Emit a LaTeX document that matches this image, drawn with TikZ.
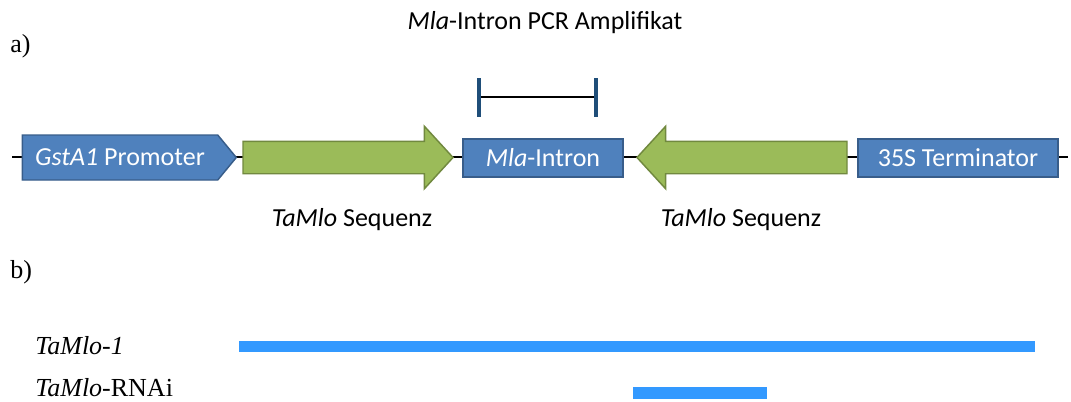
\documentclass[tikz,border=0pt]{standalone}
\usepackage{fontspec}
\setmainfont{Liberation Serif}
\newfontfamily\calib{Carlito}
\usetikzlibrary{shapes.arrows,shapes.symbols}
\definecolor{boxblue}{HTML}{4F81BD}
\definecolor{boxedge}{HTML}{385D8A}
\definecolor{arrgreen}{HTML}{9BBB59}
\definecolor{arredge}{HTML}{71893F}
\definecolor{barblue}{HTML}{3399FF}
\definecolor{tickblue}{HTML}{1F4E79}
\tikzset{
  blueshape/.style={fill=boxblue,draw=boxedge,line width=1.1pt,inner sep=0pt,text=white,font=\calib\fontsize{19.5}{21}\selectfont},
  greenarrow/.style={single arrow,fill=arrgreen,draw=arredge,line width=1.1pt,inner xsep=0pt,inner ysep=11.625pt,minimum height=157.5pt,single arrow head extend=11.25pt,single arrow tip angle=95,outer sep=0pt},
  callabel/.style={font=\calib\fontsize{19.5}{21}\selectfont,inner sep=0pt},
  serlabel/.style={font=\fontsize{19.5}{22}\selectfont,inner sep=0pt},
  bar/.style={fill=barblue,draw=none,inner sep=0pt},
  backbone/.style={line width=1.5pt,black},
  tickline/.style={line width=2.4pt,tickblue},
}
\begin{document}
\begin{tikzpicture}[x=0.75pt,y=-0.75pt]
\useasboundingbox (0,0) rectangle (1071,401);
\coordinate (L) at (12,157);
\coordinate (R) at (1068,157);
\draw[backbone] (L) -- (R);
\node[blueshape,signal,signal to=east,signal pointer angle=101,minimum width=160.5pt,minimum height=33.75pt] (prom) at (120,157.5) {\itshape GstA1\upshape{} Promoter};
\node[greenarrow,shape border rotate=0,anchor=tail] (arr1) at (243,157.5) {};
\node[blueshape,rectangle,minimum width=120pt,minimum height=28.5pt] (intron) at (543,158) {\itshape Mla\upshape-Intron};
\node[greenarrow,shape border rotate=180,anchor=tail] (arr2) at (847,157.5) {};
\node[blueshape,rectangle,minimum width=150pt,minimum height=28.5pt] (term) at (958,158) {35S Terminator};
% bracket
\coordinate (b1) at (479,97);
\coordinate (b2) at (596,97);
\draw[line width=1.9pt] (b1) -- (b2);
\draw[tickline] ([yshift=14.25pt]b1) -- ([yshift=-15pt]b1);
\draw[tickline] ([yshift=14.25pt]b2) -- ([yshift=-15pt]b2);
% labels
\node[callabel] (title) at (545,23) {\itshape Mla\upshape-Intron PCR Amplifikat};
\node[callabel] (seq1) at (352,220) {\itshape TaMlo\upshape{} Sequenz};
\node[callabel] (seq2) at (741,220) {\itshape TaMlo\upshape{} Sequenz};
\node[serlabel,anchor=west] (a) at (10,46) {a)};
\node[serlabel,anchor=west] (b) at (10,272) {b)};
\node[serlabel,anchor=west] (l1) at (35,346) {\itshape TaMlo-1};
\node[serlabel,anchor=west] (l2) at (35,388) {\itshape TaMlo\upshape-RNAi};
\node[bar,minimum width=597pt,minimum height=8.25pt] (bar1) at (637,346.5) {};
\node[bar,minimum width=100.5pt,minimum height=9pt] (bar2) at (700,393) {};
\end{tikzpicture}
\end{document}
